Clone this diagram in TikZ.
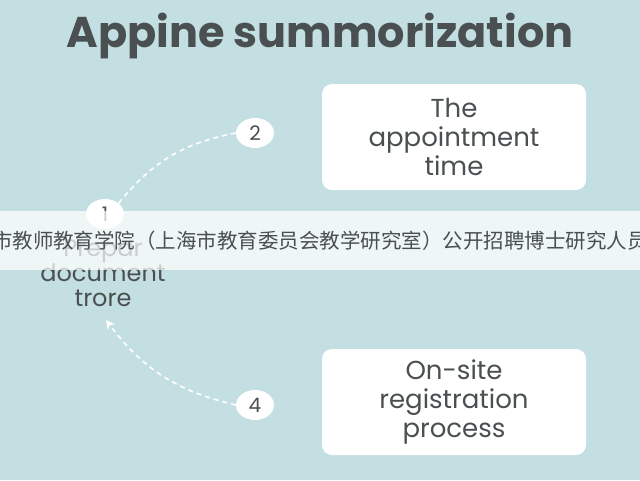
\documentclass[tikz,border=0pt]{standalone}
\usepackage{fontspec}
\setmainfont{Poppins}
\newfontfamily\cjk{Noto Sans CJK SC}
\definecolor{bgteal}{HTML}{C3DFE1}
\definecolor{inkgray}{HTML}{4A5052}
\usetikzlibrary{shapes.geometric,arrows.meta}
\tikzset{
  card/.style={fill=white, rounded corners=10pt, minimum width=264pt, minimum height=106pt, align=center, text=inkgray, font=\fontsize{26}{29}\selectfont},
  stepmark/.style={ellipse, fill=white, minimum width=38pt, minimum height=30pt, inner sep=0pt, text=inkgray, font=\fontsize{20}{20}\selectfont},
  link/.style={white, line width=1.6pt, dash pattern=on 5pt off 4pt}
}
\begin{document}
\begin{tikzpicture}[x=1pt,y=-1pt]
\fill[bgteal] (0,0) rectangle (640,480);
\useasboundingbox (0,0) rectangle (640,480);

\node[text=inkgray, font=\bfseries\fontsize{43}{43}\selectfont] (title) at (320,36) {Appine summorization};

\node[card] (time) at (454,137) {The\\ appointment\\ time};
\node[card] (site) at (454,402) {On-site\\ registration\\ process};

\node[stepmark] (s1) at (105,214) {1};
\node[stepmark] (s2) at (255,133) {2};
\node[stepmark] (s4) at (255,405) {4};

\node[text=inkgray, align=center, font=\fontsize{24}{25}\selectfont] (prep) at (103,273) {Prepar\\ document\\ trore};
\coordinate (tip) at (106,320);

\draw[link] (s1.north east) to[bend left=20] (s2.west);
\draw[link, -{Stealth[length=9pt,width=9pt]}] (s4.west) to[bend left=20] (tip);

\fill[white, opacity=0.72] (0,211) rectangle (640,270);
\node[text=inkgray, font=\cjk\fontsize{20.5}{20.5}\selectfont] (banner) at (320,241) {市教师教育学院（上海市教育委员会教学研究室）公开招聘博士研究人员};
\end{tikzpicture}
\end{document}
